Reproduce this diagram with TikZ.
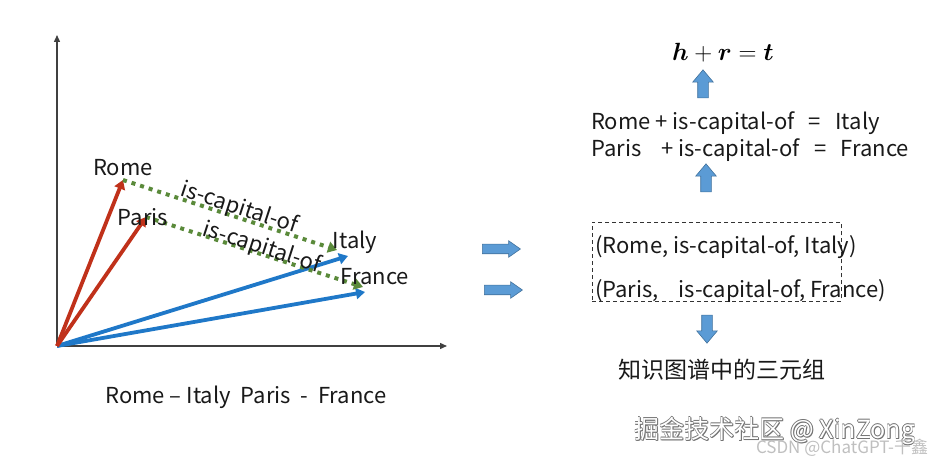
\documentclass[tikz,border=0pt]{standalone}
\usepackage{fontspec}
\usepackage{bm}
\setmainfont{Noto Sans CJK SC}
\usetikzlibrary{arrows.meta,shapes.arrows,calc}
\definecolor{vred}{HTML}{C0311A}
\definecolor{vblue}{HTML}{1F78C8}
\definecolor{vgreen}{HTML}{5A8A3A}
\definecolor{bfill}{HTML}{5B9BD5}
\definecolor{bdraw}{HTML}{41719C}
\definecolor{axiscol}{HTML}{404040}
\begin{document}
\begin{tikzpicture}[x=1pt,y=-1pt,
 txt/.style={font=\fontsize{22}{26}\selectfont, inner sep=0pt, text=black!90},
 axisline/.style={draw=axiscol, line width=1.3pt, -{Triangle[length=7pt,width=6pt]}},
 redvec/.style={draw=vred, line width=3.8pt, -{Triangle[length=9pt,width=11pt]}},
 bluevec/.style={draw=vblue, line width=3.8pt, -{Triangle[length=9pt,width=11pt]}},
 relvec/.style={draw=vgreen, line width=4pt, dash pattern=on 4pt off 5pt, -{Triangle[length=9pt,width=11pt]}},
 blockarrow/.style={single arrow, draw=bdraw, fill=bfill, line width=0.6pt, inner sep=5pt, single arrow head extend=5pt, single arrow tip angle=80, minimum height=#1},
 blockarrowh/.style={single arrow, draw=bdraw, fill=bfill, line width=0.6pt, inner sep=4.5pt, single arrow head extend=3.5pt, single arrow tip angle=70, minimum height=#1},
]
\useasboundingbox (0,0) rectangle (932,462);
% axes
\coordinate (O) at (57,346);
\coordinate (ytop) at (57,35);
\coordinate (xend) at (447,346);
\draw[axisline] (O) -- (ytop);
\draw[axisline] (O) -- (xend);
% vector tips
\coordinate (romeP) at (123,180);
\coordinate (parisP) at (146,217);
\coordinate (italyP) at (348,256);
\coordinate (franceP) at (365,292);
\coordinate (italyG) at (337,250);
\coordinate (franceG) at (363,287);
\draw[bluevec] (O) -- (italyP);
\draw[bluevec] (O) -- (franceP);
\draw[redvec] (O) -- (romeP);
\draw[redvec] (O) -- (parisP);
\draw[relvec] (romeP) -- node[txt, sloped, pos=0.53, above=-4pt] (rel1) {is-capital-of} (italyG);
\draw[relvec] (parisP) -- node[txt, sloped, pos=0.525, above=-7pt] (rel2) {is-capital-of} (franceG);
\node[txt] (romeL) at (123,168) {Rome};
\node[txt] (parisL) at (143,217) {Paris};
\node[txt] (italyL) at (355,242) {Italy};
\node[txt] (franceL) at (375,277) {France};
\node[txt] (caption) at (246,397) {Rome – Italy\ \ Paris\ \ -\ \ France};
% right side
\node[font=\fontsize{26}{30}\selectfont, inner sep=0pt] (eq) at (723,53) {$\bm{h}+\bm{r}=\bm{t}$};
\node[blockarrow=28pt, shape border rotate=90] (up1) at (703,87) {};
\node[txt, anchor=west] (eq1) at (591,123) {Rome + is-capital-of\hspace{0.65em}=\hspace{0.65em}Italy};
\node[txt, anchor=west] (eq2) at (591,150) {Paris\hspace{0.9em}+ is-capital-of\hspace{0.65em}=\hspace{0.65em}France};
\node[blockarrow=28pt, shape border rotate=90] (up2) at (706,181) {};
\node[draw=black!80, line width=1pt, dash pattern=on 4pt off 3pt, minimum width=249pt, minimum height=79pt, inner sep=0pt] (box) at (716.5,262) {};
\node[txt, anchor=west] (t1) at (595,247) {(Rome, is-capital-of, Italy)};
\node[txt, anchor=west] (t2) at (595,291) {(Paris,\hspace{0.9em}is-capital-of, France)};
\node[blockarrowh=38pt] (r1) at (498,249) {};
\node[blockarrowh=38pt] (r2) at (500,290) {};
\node[blockarrow=28pt, shape border rotate=270] (down) at (707,326) {};
\node[font=\fontsize{23}{26}\selectfont, inner sep=0pt, text=black!90] (cn) at (722,370) {知识图谱中的三元组};
% watermark
\foreach \dx/\dy in {-0.8/0,0.8/0,0/-0.8,0/0.8,0.8/0.8}{
  \node[font=\fontsize{25}{30}\selectfont, inner sep=0pt, text=black!55] at ($(775,431)+(\dx,\dy)$) {掘金技术社区 @ XinZong};
}
\node[font=\fontsize{25}{30}\selectfont, inner sep=0pt, text=white] (wm) at (775,431) {掘金技术社区 @ XinZong};
\node[font=\fontsize{17}{19}\selectfont, inner sep=0pt, text=black!25] (wm2) at (842,448) {CSDN @ChatGPT-千鑫};
\end{tikzpicture}
\end{document}
